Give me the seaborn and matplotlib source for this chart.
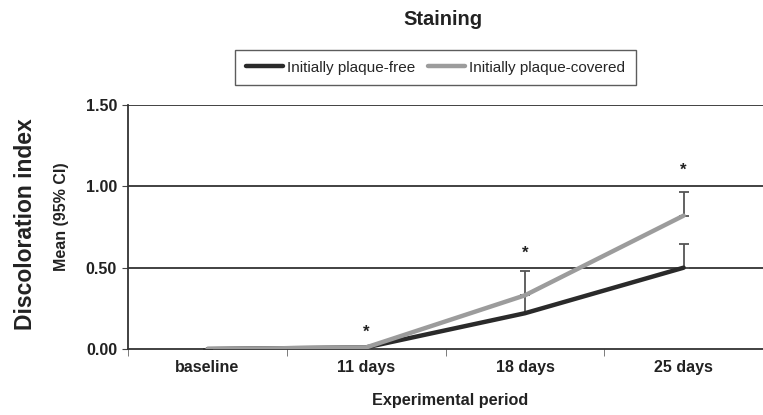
import numpy as np
import pandas as pd
import seaborn as sns
import matplotlib.pyplot as plt

periods = ['baseline', '11 days', '18 days', '25 days']
free_mean = [0.0, 0.01, 0.22, 0.50]
covered_mean = [0.0, 0.01, 0.33, 0.82]
# upper limit of the 95% CI (only upper whiskers drawn)
free_upper = [0.0, 0.01, 0.33, 0.645]
covered_upper = [0.0, 0.01, 0.48, 0.965]
star_y = [np.nan, 0.10, 0.59, 1.10]

sns.set_style('white')
plt.rcParams['font.family'] = ['Liberation Sans', 'DejaVu Sans']

df = pd.DataFrame({
    'period': periods * 2,
    'mean': free_mean + covered_mean,
    'group': ['Initially plaque-free'] * 4 + ['Initially plaque-covered'] * 4,
})

fig = plt.figure(figsize=(7.63, 4.15), dpi=100)
ax = fig.add_axes([0.168, 0.159, 0.832, 0.588])

pos = np.arange(len(periods))
# whiskers first so the lines sit on top
ax.errorbar(pos, free_mean, yerr=[np.zeros(4), np.array(free_upper) - np.array(free_mean)],
            fmt='none', ecolor='#555555', elinewidth=1.3, capsize=3.5, capthick=1.3, zorder=2)
ax.errorbar(pos, covered_mean, yerr=[np.zeros(4), np.array(covered_upper) - np.array(covered_mean)],
            fmt='none', ecolor='#555555', elinewidth=1.3, capsize=3.5, capthick=1.3, zorder=2)

sns.lineplot(data=df, x='period', y='mean', hue='group',
             palette={'Initially plaque-free': '#2a2a2a', 'Initially plaque-covered': '#9c9c9c'},
             linewidth=3.2, ax=ax, zorder=3, legend=True)

for i, s in enumerate(star_y):
    if not np.isnan(s):
        ax.text(pos[i], s, '*', ha='center', va='center', fontsize=12, fontweight='bold', color='#222222')

ax.set_ylim(0, 1.5)
ax.set_xlim(-0.5, 3.444)
ax.set_yticks([0, 0.5, 1.0, 1.5])
ax.set_yticklabels(['0.00', '0.50', '1.00', '1.50'], fontsize=11.5, fontweight='bold', color='#222222')
ax.set_xticks(pos)
ax.set_xticklabels(periods, fontsize=11.5, fontweight='bold', color='#222222')
ax.set_xticks([-0.5, 0.5, 1.5, 2.5, 3.5], minor=True)
ax.tick_params(axis='x', which='major', length=0, pad=8)
ax.tick_params(axis='x', which='minor', length=5, color='#666666', direction='out', bottom=True)
ax.tick_params(axis='y', length=4, color='#444444', direction='out', left=True, pad=4)
ax.set_xlabel('')
ax.set_ylabel('')

for y in [0.5, 1.0, 1.5]:
    ax.axhline(y, color='#333333', linewidth=1.3, zorder=1)

for side in ['top', 'right']:
    ax.spines[side].set_visible(False)
ax.spines['left'].set_color('#333333')
ax.spines['bottom'].set_color('#333333')
ax.spines['left'].set_linewidth(1.3)
ax.spines['bottom'].set_linewidth(1.3)

handles, labels = ax.get_legend_handles_labels()
ax.legend(handles, labels, ncol=2, loc='center', bbox_to_anchor=(0.571, 0.837),
          bbox_transform=fig.transFigure, frameon=True, fancybox=False,
          edgecolor='#333333', fontsize=11, handlelength=2.4, handletextpad=0.3,
          columnspacing=0.8, borderpad=0.7)
ax.get_legend().get_frame().set_linewidth(1.0)

fig.text(0.58, 0.952, 'Staining', ha='center', va='center', fontsize=14.5, fontweight='bold', color='#222222')
fig.text(0.033, 0.46, 'Discoloration index', rotation=90, ha='center', va='center',
         fontsize=16.5, fontweight='bold', color='#222222')
fig.text(0.080, 0.477, 'Mean (95% CI)', rotation=90, ha='center', va='center',
         fontsize=11.5, fontweight='bold', color='#222222')
fig.text(0.59, 0.036, 'Experimental period', ha='center', va='center',
         fontsize=11.7, fontweight='bold', color='#222222')

fig.savefig('out.png', dpi=100, facecolor='white')
